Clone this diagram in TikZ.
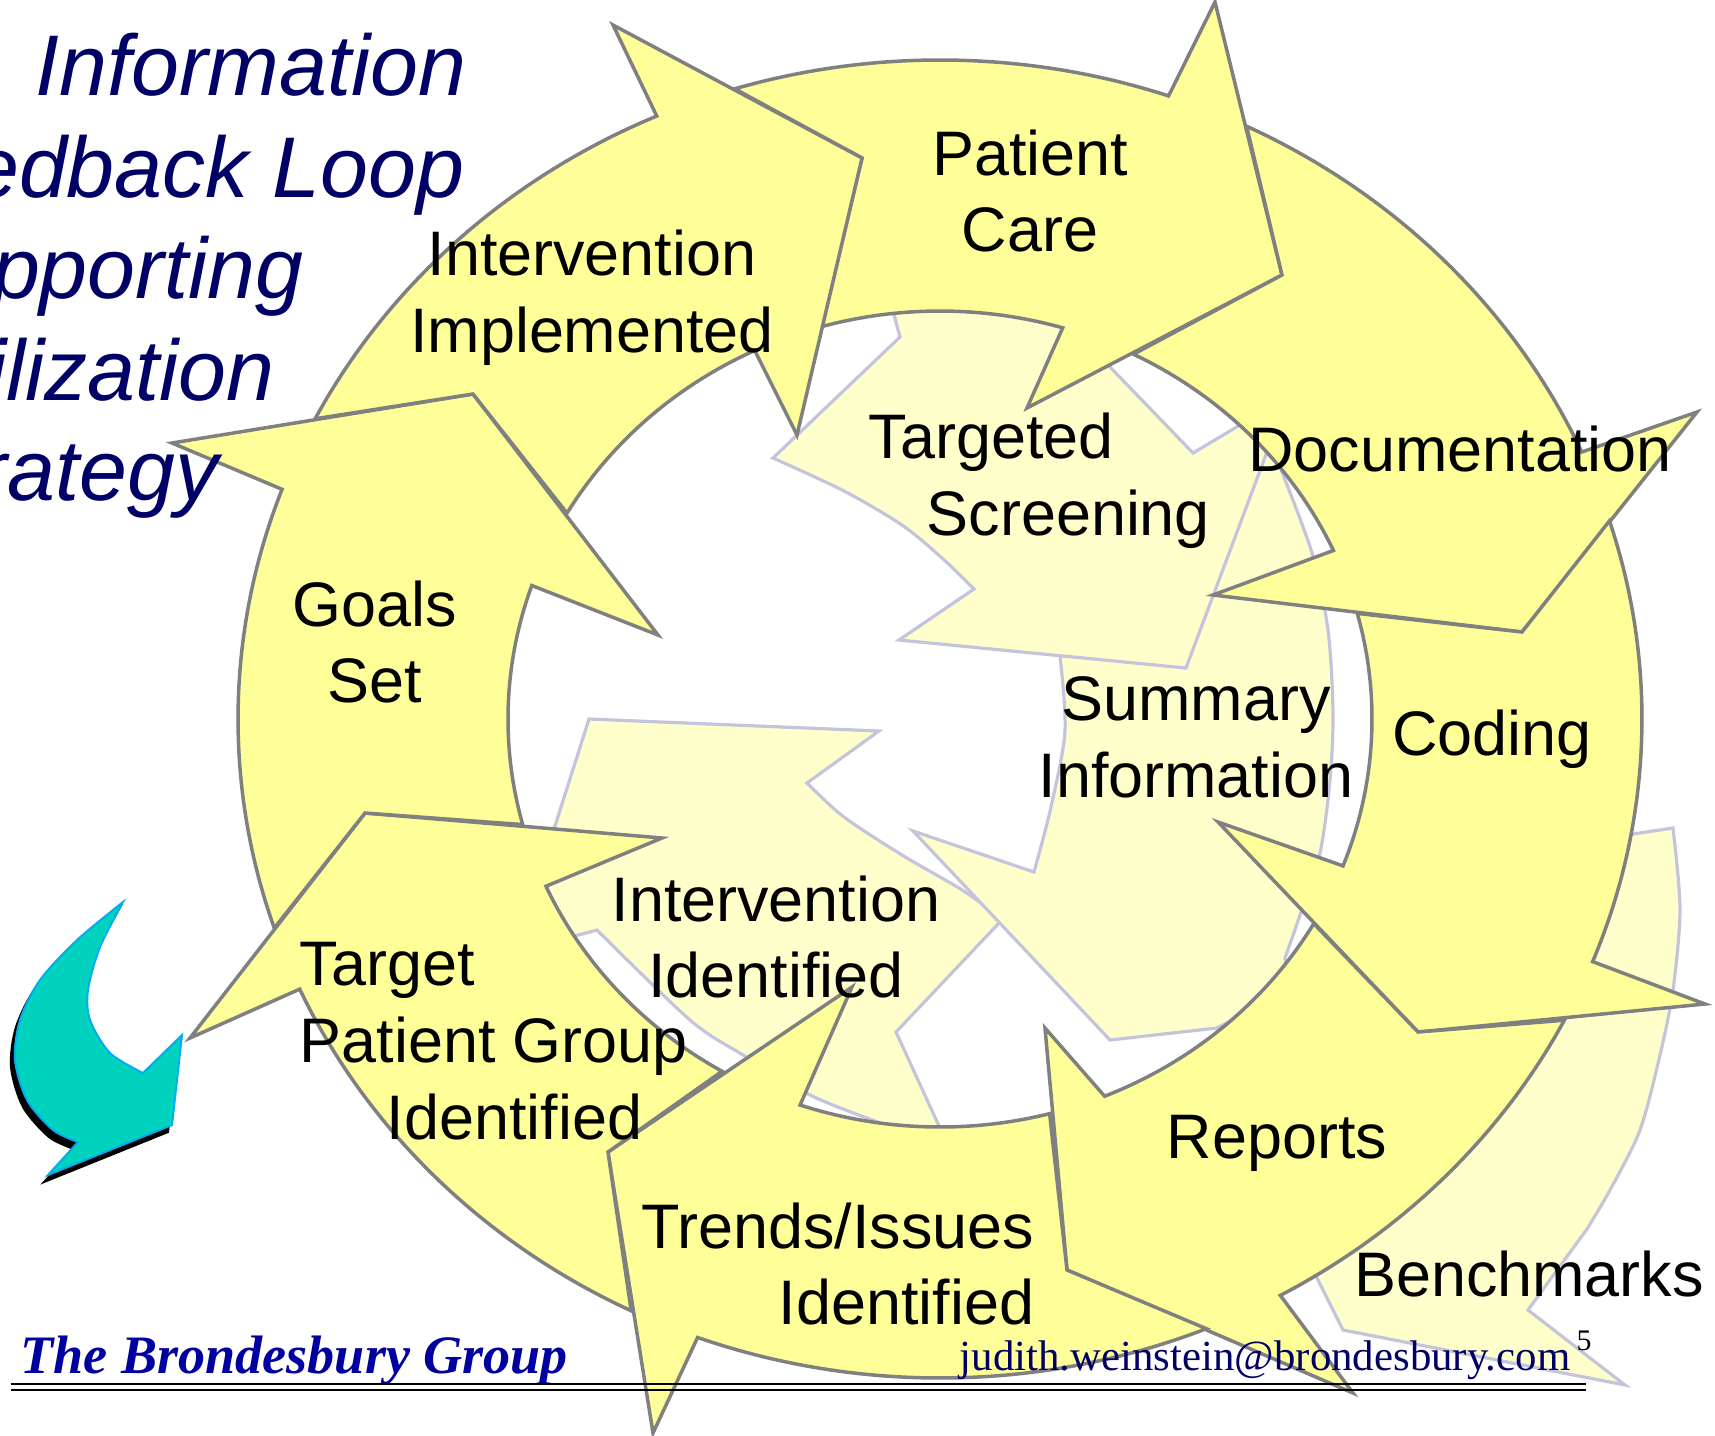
\documentclass[tikz,border=0pt]{standalone}
\usepackage{fontspec}
\setmainfont{Liberation Sans}
\newfontfamily\footserif{Liberation Serif}
\usepackage{tikz}
\usepackage{xcolor}
\usetikzlibrary{calc}

\definecolor{ringfill}{RGB}{255,255,153}
\definecolor{ringline}{RGB}{128,128,128}
\definecolor{palefill}{RGB}{255,255,204}
\definecolor{paleline}{RGB}{196,196,220}
\definecolor{titlenavy}{RGB}{0,0,102}
\definecolor{firmblue}{RGB}{0,0,160}
\definecolor{turq}{RGB}{0,210,190}

\tikzset{
  ringarrow/.style={fill=ringfill, draw=ringline, line width=0.35mm, line join=miter},
  palearrow/.style={fill=palefill, draw=paleline, line width=0.32mm},
  outring/.style={x radius=702, y radius=659},
  inring/.style={x radius=432, y radius=408},
  lbl/.style={font=\fontsize{17.9}{21.9}\selectfont, inner sep=0pt},
  title/.style={font=\fontsize{24.5}{29}\selectfont\itshape, text=titlenavy, inner sep=0pt, anchor=base east}
}

\begin{document}
\begin{tikzpicture}[x=0.1mm, y=-0.1mm]
\useasboundingbox (0,0) rectangle (1715,1435);
\coordinate (ctr) at (940,719);

% pale arrows behind the ring
\draw[palearrow] (1560,845) -- (1673,828) -- plot[smooth] coordinates {(1673,828) (1680,909) (1673,990) (1660,1055) (1640,1130) (1610,1190) (1587,1229)}
  -- (1528,1310) -- (1625,1385) -- (1343,1330) -- (1317,1278) -- (1300,1200) -- (1500,1000) -- cycle;
\draw[palearrow] (589,719) -- (879,731) -- (807,783) -- plot[smooth] coordinates {(807,783) (844,817) (902,855) (959,888) (985,906)}
  -- (1000,922) -- (896,1032) -- (950,1150) -- plot[smooth] coordinates {(867,1118) (810,1095) (743,1055) (690,1020) (597,930)}
  -- (560,940) -- (530,870) -- (555,826) -- cycle;
\draw[palearrow] (1060,656) -- plot[smooth] coordinates {(1060,656) (1065,731) (1051,807) (1034,872)} -- (913,831) -- (1110,1040) -- (1217,1028) -- (1290,990)
  -- plot[smooth] coordinates {(1285,958) (1300,915) (1320,853) (1330,780) (1333,713) (1328,630) (1312,553) (1280,467)}
  -- (1260,420) -- (1150,600) -- cycle;
\draw[palearrow] (890,300) -- (900,337) -- (773,458) -- plot[smooth] coordinates {(773,458) (844,491) (902,525) (942,558) (974,589)}
  -- (899,640) -- (1186,668) -- (1267,452) -- (1290,415) -- (1240,425) -- (1193,453) -- (1110,367) -- (1080,330) -- (950,300) -- cycle;

% outer ring of arrows
\draw[ringarrow] ($(ctr)+(-107:702 and 659)$) arc[outring, start angle=-107, end angle=-71] -- (1215,2) -- (1282,275) -- (1027,408)
  -- ($(ctr)+(-73.5:432 and 408)$) arc[inring, start angle=-73.5, end angle=-105.9] -- (862,158) -- cycle;
\draw[ringarrow] ($(ctr)+(-64.1:702 and 659)$) arc[outring, start angle=-64.1, end angle=-23.9] -- (1697,412) -- (1522,632) -- (1213,595)
  -- ($(ctr)+(-24.4:432 and 408)$) arc[inring, start angle=-24.4, end angle=-63.4] -- (1282,275) -- cycle;
\draw[ringarrow] ($(ctr)+(-17.5:702 and 659)$) arc[outring, start angle=-17.5, end angle=21.6] -- (1705,1004) -- (1418,1032) -- (1218,822)
  -- ($(ctr)+(21.1:432 and 408)$) arc[inring, start angle=21.1, end angle=-15] -- (1522,632) -- cycle;
\draw[ringarrow] ($(ctr)+(27.2:702 and 659)$) arc[outring, start angle=27.2, end angle=61] -- (1353,1393) -- (1067,1270) -- (1045,1028)
  -- ($(ctr)+(67.6:432 and 408)$) arc[inring, start angle=67.6, end angle=30.1] -- (1418,1032) -- cycle;
\draw[ringarrow] ($(ctr)+(67.7:702 and 659)$) arc[outring, start angle=67.7, end angle=110.2] -- (653,1433) -- (608,1152) -- (852,987)
  -- ($(ctr)+(108.9:432 and 408)$) arc[inring, start angle=108.9, end angle=75.3] -- (1067,1270) -- cycle;
\draw[ringarrow] ($(ctr)+(116.1:702 and 659)$) arc[outring, start angle=116.1, end angle=155.8] -- (190,1038) -- (365,813) -- (662,838)
  -- ($(ctr)+(155.8:432 and 408)$) arc[inring, start angle=155.8, end angle=120.3] -- (608,1152) -- cycle;
\draw[ringarrow] ($(ctr)+(161.5:702 and 659)$) arc[outring, start angle=161.5, end angle=200.4] -- (172,443) -- (473,394) -- (658,635)
  -- ($(ctr)+(199.1:432 and 408)$) arc[inring, start angle=199.1, end angle=165] -- (365,813) -- cycle;
\draw[ringarrow] ($(ctr)+(207.1:702 and 659)$) arc[outring, start angle=207.1, end angle=246.2] -- (613,25) -- (862,158) -- (797,435)
  -- ($(ctr)+(244.6:432 and 408)$) arc[inring, start angle=244.6, end angle=210.3] -- (473,394) -- cycle;

% labels
\node[lbl, align=center] (intimpl) at (592,298) {Intervention\\Implemented};
\node[lbl, align=center] (care) at (1030,191) {Patient\\Care};
\node[lbl, align=left, anchor=west] (screen) at (868,481) {Targeted\\\hspace*{5.8mm}Screening};
\node[lbl, anchor=base] (docu) at (1460,471) {Documentation};
\node[lbl, align=center] (summary) at (1196,737) {Summary\\Information};
\node[lbl, anchor=base] (coding) at (1492,755) {Coding};
\node[lbl, align=center] (goals) at (375,642) {Goals\\Set};
\node[lbl, align=center] (intident) at (776,937) {Intervention\\Identified};
\node[lbl, align=left, anchor=west] (tgroup) at (299,1041) {Target\\Patient Group\\\hspace*{8.7mm}Identified};
\node[lbl, align=right, anchor=east] (trends) at (1035,1264) {Trends/Issues\\Identified};
\node[lbl, anchor=base] (reports) at (1277,1158) {Reports};
\node[lbl, anchor=base] (bench) at (1529,1296) {Benchmarks};

% title, cut at the left edge
\node[title] (tline1) at (467,95) {Information};
\node[title] (tline2) at (465,197) {Feedback Loop};
\node[title] (tline3) at (304,298) {Supporting};
\node[title] (tline4) at (275,400) {Utilization};
\node[title] (tline5) at (219,500) {Strategy};

% bent arrow with shadow
\foreach \dx/\dy/\fc/\lc in {-4/7/black/black, 0/0/turq/cyan} {
  \filldraw[fill=\fc, draw=\lc, line width=0.2mm, shift={(\dx,\dy)}]
    (123,902) -- plot[smooth] coordinates {(123,902) (77,940) (40,980) (20,1020) (15,1060) (27,1100) (53,1130) (78,1142)}
    -- (48,1175) -- (172,1125) -- (182,1035) -- plot[smooth] coordinates {(143,1073) (110,1053) (90,1020) (88,990) (100,947) (123,902)} -- cycle;
}

% footer
\node[anchor=base west, inner sep=0pt, text=firmblue, font={\footserif\bfseries\itshape\fontsize{15.4}{18}\selectfont}] (firm) at (20,1373) {The Brondesbury Group};
\node[anchor=base west, inner sep=0pt, text=titlenavy, font={\footserif\fontsize{12.2}{14}\selectfont}] (mail) at (959,1370) {judith.weinstein@brondesbury.com};
\node[anchor=base west, inner sep=0pt, font={\footserif\fontsize{8.5}{10}\selectfont}] (pageno) at (1576,1350) {5};
\draw[line width=0.2mm] (11,1383.5) -- (1586,1383.5);
\draw[line width=0.2mm] (11,1389.5) -- (1586,1389.5);
\end{tikzpicture}
\end{document}
